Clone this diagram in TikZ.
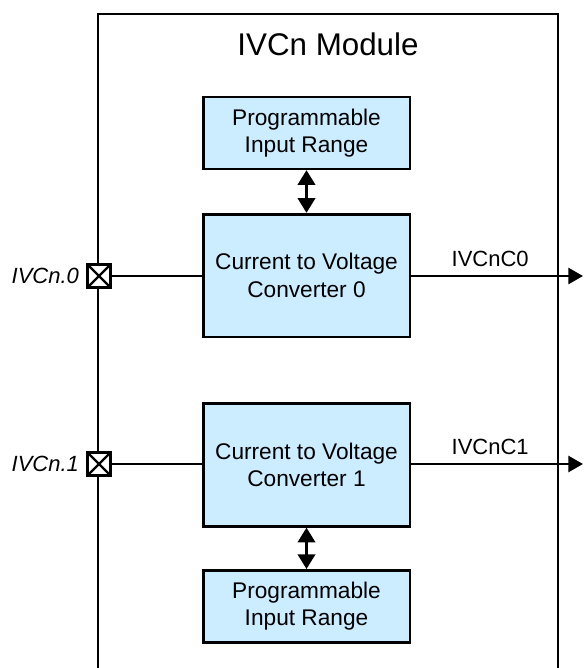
\documentclass[tikz,border=0pt]{standalone}
\usepackage{fontspec}
\setmainfont{Liberation Sans}
\usepackage{tikz}
\usetikzlibrary{arrows.meta,positioning}
\definecolor{blockfill}{RGB}{204,236,255}

\begin{document}
\begin{tikzpicture}[x=0.75pt,y=-0.75pt,
  block/.style={rectangle,draw=black,line width=2pt,fill=blockfill,
                minimum width=155pt,align=center,
                font=\fontsize{17}{20.5}\selectfont},
  convbox/.style={block,minimum height=92pt},
  rangebox/.style={block,minimum height=54pt},
  port/.style={rectangle,draw=black,line width=2pt,fill=white,
               minimum size=17pt,inner sep=0pt,
               path picture={\draw[line width=1.6pt]
                 (path picture bounding box.north west) -- (path picture bounding box.south east)
                 (path picture bounding box.north east) -- (path picture bounding box.south west);}},
  sig/.style={line width=2pt},
  outarr/.style={line width=2pt,-{Triangle[length=11pt,width=12pt]}},
  biarr/.style={line width=2pt,{Triangle[length=11pt,width=13pt]}-{Triangle[length=11pt,width=13pt]}},
  lbl/.style={font=\fontsize{16.5}{20}\selectfont}]
\useasboundingbox (0,0) rectangle (583,668);
%% ── Module frame (open at the bottom) ──────────────────────────────────
\draw[line width=2pt] (98,668) -- (98,14) -- (558,14) -- (558,668);
\node[font=\fontsize{23.5}{28}\selectfont] (title) at (328,44) {IVCn Module};
%% ── Converter blocks and their input range blocks ──────────────────────
\node[convbox] (conv0) at (306.5,275.5) {Current to Voltage\\Converter 0};
\node[convbox] (conv1) at (306.5,465) {Current to Voltage\\Converter 1};
\node[rangebox,above=32pt of conv0] (range0) {Programmable\\Input Range};
\node[rangebox,below=31pt of conv1] (range1) {Programmable\\Input Range};
\draw[biarr] (range0.south) -- (conv0.north);
\draw[biarr] (conv1.south) -- (range1.north);
%% ── Input pins ─────────────────────────────────────────────────────────
\node[port] (pin0) at (99,276) {};
\node[port] (pin1) at (99,464) {};
\node[lbl,font=\fontsize{16.5}{20}\selectfont\itshape,left=2pt of pin0] (pinlbl0) {IVCn.0};
\node[lbl,font=\fontsize{16.5}{20}\selectfont\itshape,left=2pt of pin1] (pinlbl1) {IVCn.1};
\draw[sig] (pin0.east) -- (conv0.west |- pin0.east);
\draw[sig] (pin1.east) -- (conv1.west |- pin1.east);
%% ── Outputs ────────────────────────────────────────────────────────────
\coordinate (out0) at (583,276);
\coordinate (out1) at (583,464);
\draw[outarr] (conv0.east |- out0) -- node[lbl,above=3pt,pos=0.46]{IVCnC0} (out0);
\draw[outarr] (conv1.east |- out1) -- node[lbl,above=3pt,pos=0.46]{IVCnC1} (out1);
\end{tikzpicture}
\end{document}
